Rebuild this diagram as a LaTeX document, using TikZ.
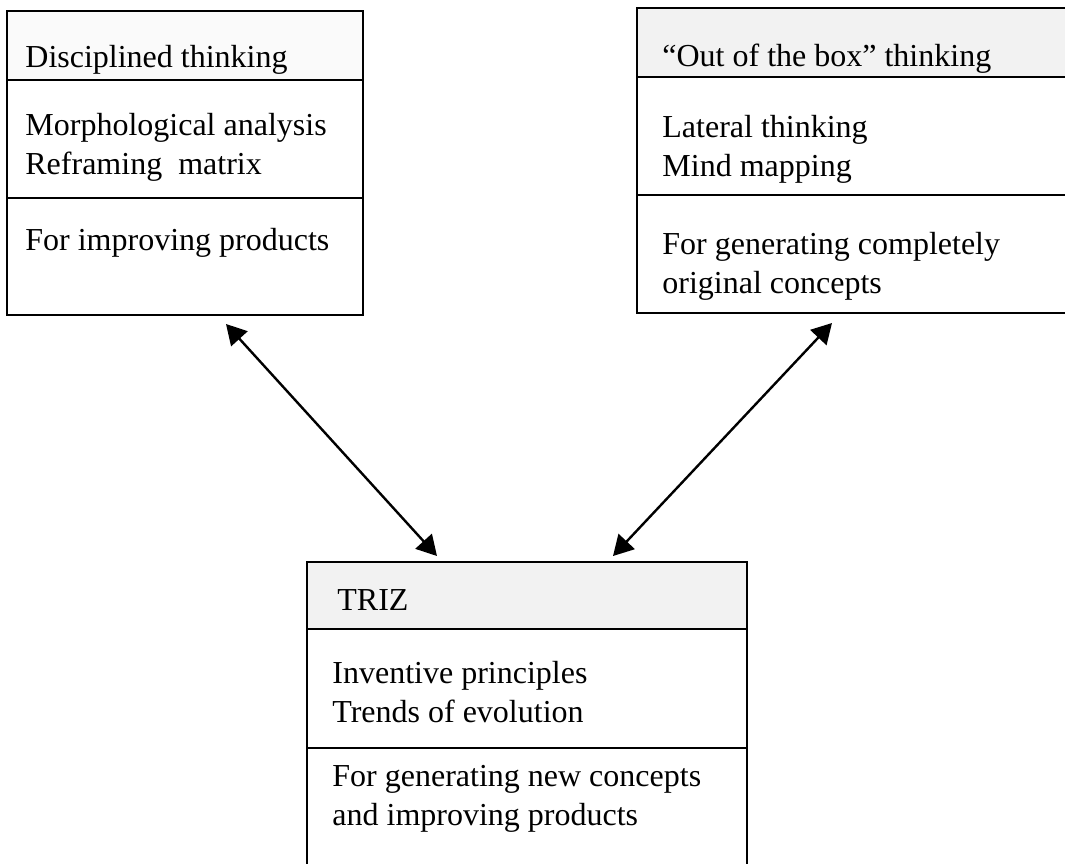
\documentclass[tikz,border=0pt]{standalone}
\usepackage{fontspec}
\setmainfont{Liberation Serif}
\usetikzlibrary{arrows.meta, positioning}

\begin{document}
\begin{tikzpicture}[
        x=0.5pt, y=-0.5pt,
        part/.style={draw, rectangle, line width=1.3pt, inner sep=0pt, outer sep=0pt, anchor=north west},
        head/.style={part, fill=black!5},
        txt/.style={anchor=base west, align=left, inner sep=0pt, font=\fontsize{16}{19.5}\selectfont},
        link/.style={{Triangle[length=10pt,width=11pt]}-{Triangle[length=10pt,width=11pt]}, line width=1.2pt},
        node distance=0pt
    ]
        \clip (0,0) rectangle (1065,863);

        % disciplined thinking
        \node[head, fill=black!2, minimum width=178pt, minimum height=34.5pt] (dis-head) at (7,11) {};
        \node[part, minimum width=178pt, minimum height=59pt, below=of dis-head] (dis-tools) {};
        \node[part, minimum width=178pt, minimum height=58.5pt, below=of dis-tools] (dis-use) {};
        \node[txt] (dis-title) at (25,67) {Disciplined thinking};
        \node[txt] (dis-list) at (25,174) {Morphological analysis\\Reframing\ \ matrix};
        \node[txt] (dis-aim) at (25,250) {For improving products};

        % out of the box thinking
        \node[head, minimum width=219pt, minimum height=34.5pt] (out-head) at (637,8) {};
        \node[part, minimum width=219pt, minimum height=59pt, below=of out-head] (out-tools) {};
        \node[part, minimum width=219pt, minimum height=59pt, below=of out-tools] (out-use) {};
        \node[txt] (out-title) at (662,66) {“Out of the box” thinking};
        \node[txt] (out-list) at (662,176) {Lateral thinking\\Mind mapping};
        \node[txt] (out-aim) at (662,293) {For generating completely\\original concepts};

        % TRIZ
        \node[head, minimum width=220pt, minimum height=33.5pt] (triz-head) at (307,562) {};
        \node[part, minimum width=220pt, minimum height=59.5pt, below=of triz-head] (triz-tools) {};
        \node[part, minimum width=220pt, minimum height=66pt, below=of triz-tools] (triz-use) {};
        \node[txt] (triz-title) at (337,610) {TRIZ};
        \node[txt] (triz-list) at (332,722) {Inventive principles\\Trends of evolution};
        \node[txt] (triz-aim) at (332,825) {For generating new concepts\\and improving products};

        \draw[link] ([xshift=20.5pt, yshift=-4.5pt]dis-use.south) -- ([xshift=-45pt, yshift=3pt]triz-head.north);
        \draw[link] ([xshift=97.5pt, yshift=-5pt]out-use.south west) -- ([xshift=43pt, yshift=3pt]triz-head.north);
    \end{tikzpicture}
\end{document}
